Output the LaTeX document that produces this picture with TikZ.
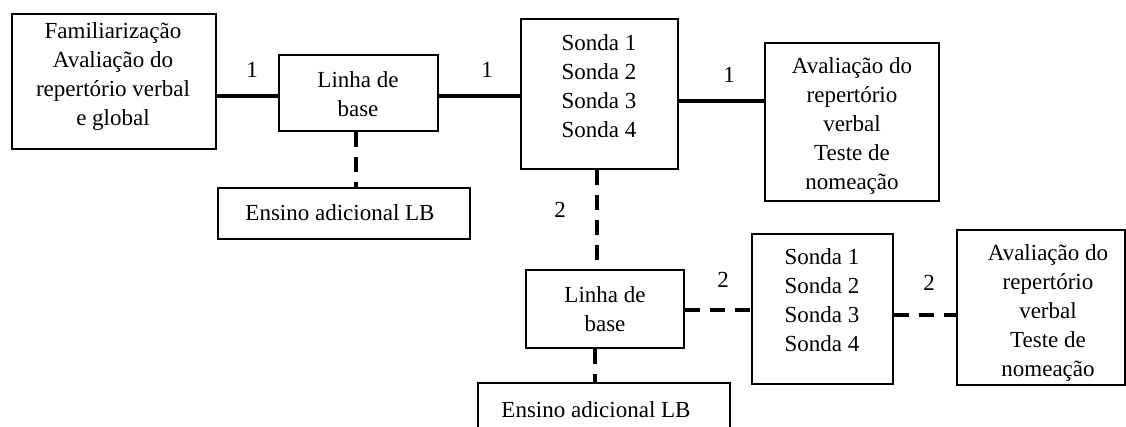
\documentclass[tikz,border=0pt]{standalone}
\usepackage{fontspec}
\setmainfont{Liberation Serif}
\begin{document}
\begin{tikzpicture}[x=1pt,y=-1pt,
  box/.style={draw, line width=1.8pt, inner sep=0pt, anchor=north west},
  txt/.style={font=\fontsize{23}{29}\selectfont, align=center, inner sep=0pt},
  num/.style={font=\fontsize{23}{29}\selectfont, inner sep=0pt},
  solidc/.style={line width=4pt},
  dashc/.style={line width=4pt, dash pattern=on 15pt off 10pt}]
\useasboundingbox (0,0) rectangle (1126,427);
\clip (0,0) rectangle (1126,427);
% boxes
\node[box, minimum width=204pt, minimum height=135pt] (A) at (11,13) {};
\node[box, minimum width=159pt, minimum height=76pt] (B) at (278,54) {};
\node[box, minimum width=252pt, minimum height=51pt] (C) at (217,187) {};
\node[box, minimum width=157pt, minimum height=150pt] (S1) at (520,18) {};
\node[box, minimum width=174pt, minimum height=158pt] (V1) at (764,42) {};
\node[box, minimum width=158pt, minimum height=78pt] (L2) at (525,269) {};
\node[box, minimum width=141pt, minimum height=150pt] (S2) at (751,233) {};
\node[box, minimum width=168pt, minimum height=155pt] (V2) at (956,229) {};
\node[box, minimum width=252pt, minimum height=60pt] (E2) at (477,382) {};
% texts
\node[txt] (tA) at (113,77) {Familiarização\\Avaliação do\\repertório verbal\\e global};
\node[txt] (tB) at (358,94) {Linha de\\base};
\node[txt] (tC) at (340,213) {Ensino adicional LB};
\node[txt] (tS1) at (599,86) {Sonda 1\\Sonda 2\\Sonda 3\\Sonda 4};
\node[txt] (tV1) at (852,126) {Avaliação do\\repertório\\verbal\\Teste de\\nomeação};
\node[txt] (tL2) at (605,309) {Linha de\\base};
\node[txt] (tS2) at (822,300) {Sonda 1\\Sonda 2\\Sonda 3\\Sonda 4};
\node[txt] (tV2) at (1048,313) {Avaliação do\\repertório\\verbal\\Teste de\\nomeação};
\node[txt] (tE2) at (596,410) {Ensino adicional LB};
% connectors
\draw[solidc] (A.east |- 0,96) -- (B.west |- 0,96);
\draw[solidc] (B.east |- 0,96) -- (S1.west |- 0,96);
\draw[solidc] (S1.east |- 0,101) -- (V1.west |- 0,101);
\draw[dashc] (B.south -| 356,0) -- (C.north -| 356,0);
\draw[dashc] (S1.south -| 597,0) -- (L2.north -| 597,0);
\draw[dashc] (L2.east |- 0,310) -- (S2.west |- 0,310);
\draw[dashc] (S2.east |- 0,315) -- (V2.west |- 0,315);
\draw[dashc] (L2.south -| 595,0) -- (E2.north -| 595,0);
% labels
\node[num] (n1) at (252,70) {1};
\node[num] (n2) at (487,70) {1};
\node[num] (n3) at (729,75) {1};
\node[num] (n4) at (560,210) {2};
\node[num] (n5) at (723,280) {2};
\node[num] (n6) at (929,283) {2};
\end{tikzpicture}
\end{document}
